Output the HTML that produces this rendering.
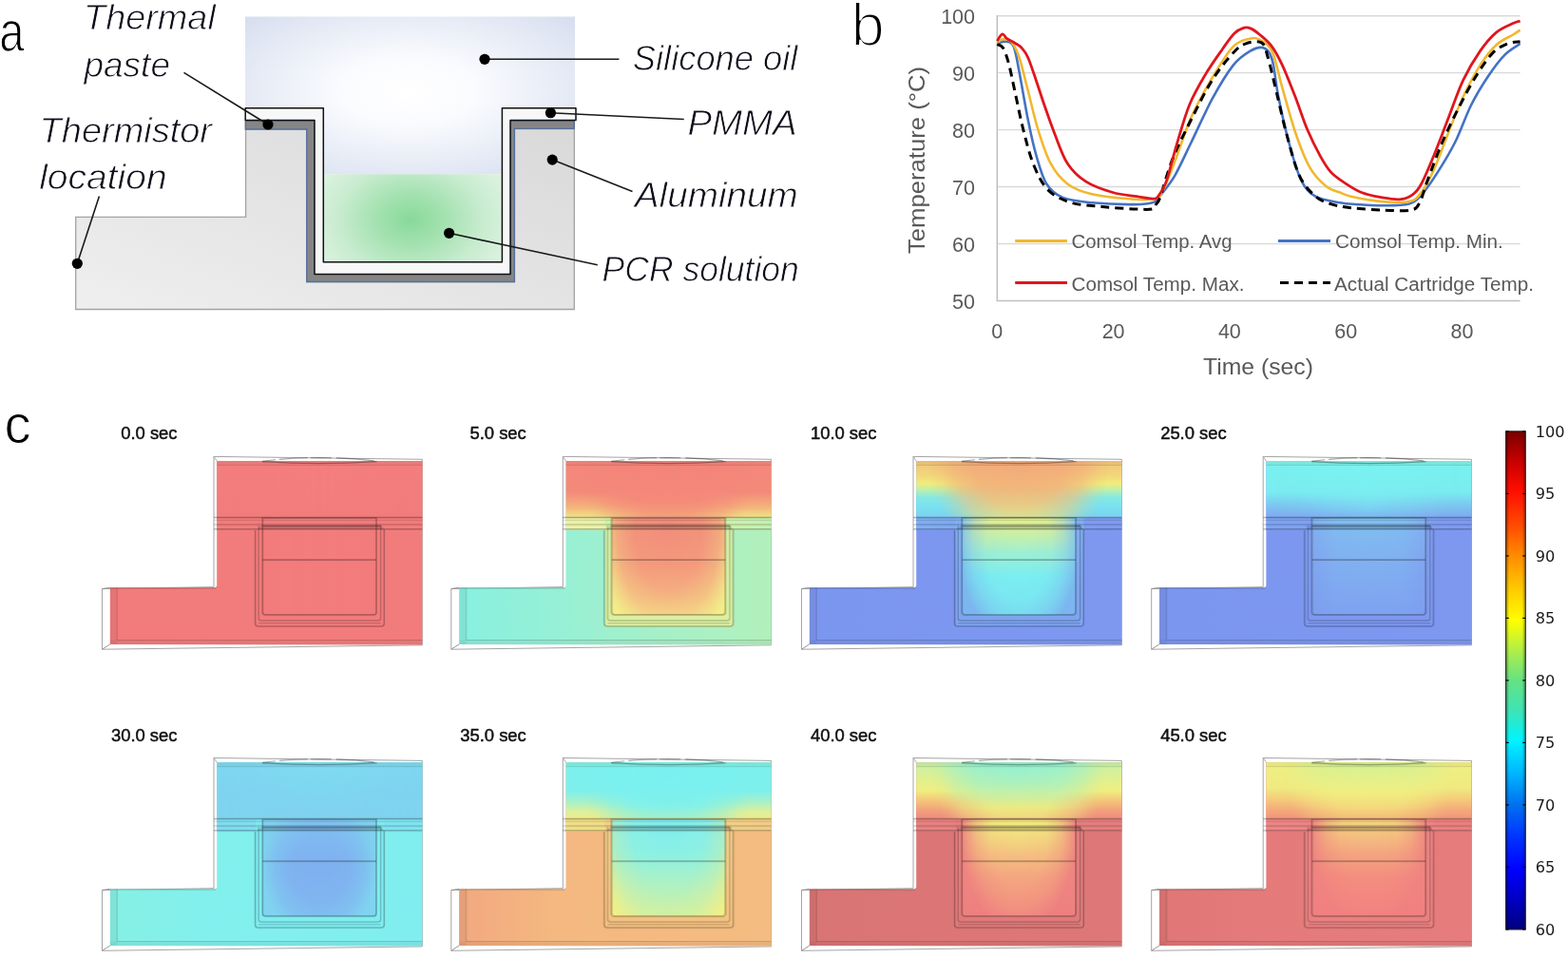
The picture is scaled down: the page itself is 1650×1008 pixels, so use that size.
<!DOCTYPE html>
<html><head><meta charset="utf-8"><title>Figure</title>
<style>html,body{margin:0;padding:0;background:#fff;overflow:hidden}svg{display:block}</style>
</head><body>
<svg width="1650" height="1008" viewBox="0 0 1650 1008">
<defs>
<radialGradient id="oilG" cx="0.5" cy="0.47" r="0.7" fx="0.49" fy="0.47">
<stop offset="0" stop-color="#ffffff"/><stop offset="0.3" stop-color="#fafbfe"/><stop offset="0.6" stop-color="#eaeef7"/><stop offset="0.85" stop-color="#dde4f2"/><stop offset="1" stop-color="#d4ddef"/></radialGradient>
<radialGradient id="pcrG" gradientUnits="userSpaceOnUse" cx="432" cy="231" r="110" gradientTransform="translate(432 231) scale(1 0.75) translate(-432 -231)">
<stop offset="0" stop-color="#88d99a"/><stop offset="0.35" stop-color="#a6e2b2"/><stop offset="0.7" stop-color="#c9ecd0"/><stop offset="1" stop-color="#dcf2e0"/></radialGradient>
<linearGradient id="aluG" x1="1" y1="0" x2="0" y2="1">
<stop offset="0" stop-color="#d9d9d9"/><stop offset="0.5" stop-color="#e4e4e4"/><stop offset="1" stop-color="#efefef"/></linearGradient>
<linearGradient id="mOilg" x1="0" y1="0" x2="1" y2="0"><stop offset="0" stop-color="#fff" stop-opacity="0"/><stop offset="0.14" stop-color="#fff" stop-opacity="0.08"/><stop offset="0.3" stop-color="#fff" stop-opacity="0.55"/><stop offset="0.5" stop-color="#fff" stop-opacity="1"/><stop offset="0.7" stop-color="#fff" stop-opacity="0.55"/><stop offset="0.86" stop-color="#fff" stop-opacity="0.08"/><stop offset="1" stop-color="#fff" stop-opacity="0"/></linearGradient>
<mask id="mOil" maskUnits="userSpaceOnUse" x="227.2" y="484" width="218.1" height="61.6"><rect x="228.2" y="485" width="216.1" height="59.6" fill="url(#mOilg)"/></mask>
<linearGradient id="mWellg" x1="0" y1="0" x2="1" y2="0"><stop offset="0" stop-color="#fff" stop-opacity="0"/><stop offset="0.07" stop-color="#fff" stop-opacity="0.3"/><stop offset="0.2" stop-color="#fff" stop-opacity="0.85"/><stop offset="0.5" stop-color="#fff" stop-opacity="1"/><stop offset="0.8" stop-color="#fff" stop-opacity="0.85"/><stop offset="0.93" stop-color="#fff" stop-opacity="0.3"/><stop offset="1" stop-color="#fff" stop-opacity="0"/></linearGradient>
<mask id="mWell" maskUnits="userSpaceOnUse" x="275.3" y="544" width="121.7" height="104"><rect x="276.3" y="545" width="119.7" height="102" fill="url(#mWellg)"/></mask>
<linearGradient id="g0a" x1="0" y1="0" x2="1" y2="0"><stop offset="0" stop-color="#f27b7b"/><stop offset="1" stop-color="#f27c7c"/></linearGradient>
<linearGradient id="g0b" x1="0" y1="0" x2="1" y2="0"><stop offset="0" stop-color="#f27c7c"/><stop offset="1" stop-color="#f27b7b"/></linearGradient>
<linearGradient id="g0oe" x1="0" y1="0" x2="0" y2="1"><stop offset="0" stop-color="#f47e7e"/><stop offset="1" stop-color="#f27c7c"/></linearGradient>
<linearGradient id="g0oc" x1="0" y1="0" x2="0" y2="1"><stop offset="0" stop-color="#f47e7e"/><stop offset="1" stop-color="#f27c7c"/></linearGradient>
<linearGradient id="g0w" x1="0" y1="0" x2="0" y2="1"><stop offset="0" stop-color="#f27b7b"/><stop offset="1" stop-color="#f27b7b"/></linearGradient>
<linearGradient id="g0ie" x1="0" y1="0" x2="0" y2="1"><stop offset="0" stop-color="#f27b7b"/><stop offset="1" stop-color="#f27b7b"/></linearGradient>
<linearGradient id="g0ic" x1="0" y1="0" x2="0" y2="1"><stop offset="0" stop-color="#f27c7c"/><stop offset="1" stop-color="#f27c7c"/></linearGradient>
<linearGradient id="g1a" x1="0" y1="0" x2="1" y2="0"><stop offset="0" stop-color="#88f0e0"/><stop offset="0.35" stop-color="#98f0d4"/><stop offset="0.7" stop-color="#a8f0c6"/><stop offset="1" stop-color="#b2f0bc"/></linearGradient>
<linearGradient id="g1b" x1="0" y1="0" x2="1" y2="0"><stop offset="0" stop-color="#eef0a8"/><stop offset="0.5" stop-color="#dcf0a8"/><stop offset="1" stop-color="#c4f0b0"/></linearGradient>
<linearGradient id="g1oe" x1="0" y1="0" x2="0" y2="1"><stop offset="0" stop-color="#f4867a"/><stop offset="0.55" stop-color="#f48a7a"/><stop offset="0.8" stop-color="#f4b07a"/><stop offset="1" stop-color="#f0e486"/></linearGradient>
<linearGradient id="g1oc" x1="0" y1="0" x2="0" y2="1"><stop offset="0" stop-color="#f4837a"/><stop offset="0.7" stop-color="#f4887a"/><stop offset="1" stop-color="#f49a7a"/></linearGradient>
<linearGradient id="g1w" x1="0" y1="0" x2="0" y2="1"><stop offset="0" stop-color="#d0f0a8"/><stop offset="1" stop-color="#dcf0a0"/></linearGradient>
<linearGradient id="g1ie" x1="0" y1="0" x2="0" y2="1"><stop offset="0" stop-color="#f2e888"/><stop offset="1" stop-color="#f2ee8a"/></linearGradient>
<linearGradient id="g1ic" x1="0" y1="0" x2="0" y2="1"><stop offset="0" stop-color="#f08a7a"/><stop offset="0.5" stop-color="#f4967c"/><stop offset="0.8" stop-color="#f4ae80"/><stop offset="1" stop-color="#f4c884"/></linearGradient>
<radialGradient id="mOilR1g" cx="0.5" cy="0" r="0.42" fx="0.5" fy="0" gradientTransform="translate(0.5 0) scale(1 5.2381) translate(-0.5 0)"><stop offset="0" stop-color="#fff" stop-opacity="1"/><stop offset="0.5" stop-color="#fff" stop-opacity="0.88"/><stop offset="0.75" stop-color="#fff" stop-opacity="0.5"/><stop offset="0.9" stop-color="#fff" stop-opacity="0.15"/><stop offset="1" stop-color="#fff" stop-opacity="0"/></radialGradient>
<mask id="mOilR1" maskUnits="userSpaceOnUse" x="227.2" y="484" width="218.1" height="61.6"><rect x="228.2" y="485" width="216.1" height="59.6" fill="url(#mOilR1g)"/></mask>
<radialGradient id="mWellR1g" cx="0.5" cy="0.1" r="0.6" fx="0.5" fy="0.1" gradientTransform="translate(0.5 0.1) scale(1 2.1667) translate(-0.5 -0.1)"><stop offset="0" stop-color="#fff" stop-opacity="1"/><stop offset="0.5" stop-color="#fff" stop-opacity="0.95"/><stop offset="0.75" stop-color="#fff" stop-opacity="0.7"/><stop offset="0.9" stop-color="#fff" stop-opacity="0.3"/><stop offset="1" stop-color="#fff" stop-opacity="0"/></radialGradient>
<mask id="mWellR1" maskUnits="userSpaceOnUse" x="275.3" y="544" width="121.7" height="104"><rect x="276.3" y="545" width="119.7" height="102" fill="url(#mWellR1g)"/></mask>
<linearGradient id="g2a" x1="0" y1="0" x2="1" y2="0"><stop offset="0" stop-color="#7b96ef"/><stop offset="1" stop-color="#7e98f0"/></linearGradient>
<linearGradient id="g2b" x1="0" y1="0" x2="1" y2="0"><stop offset="0" stop-color="#80b0f0"/><stop offset="0.4" stop-color="#7ea0f0"/><stop offset="1" stop-color="#7e9af0"/></linearGradient>
<linearGradient id="g2oe" x1="0" y1="0" x2="0" y2="1"><stop offset="0" stop-color="#f2c47a"/><stop offset="0.25" stop-color="#f2d67a"/><stop offset="0.4" stop-color="#f0ec7c"/><stop offset="0.52" stop-color="#b8f0b0"/><stop offset="0.65" stop-color="#84e8e4"/><stop offset="0.8" stop-color="#7ae2f0"/><stop offset="1" stop-color="#7cd0f0"/></linearGradient>
<linearGradient id="g2oc" x1="0" y1="0" x2="0" y2="1"><stop offset="0" stop-color="#f2a87a"/><stop offset="0.5" stop-color="#f2b47a"/><stop offset="0.8" stop-color="#f2ca7a"/><stop offset="1" stop-color="#f0e47c"/></linearGradient>
<linearGradient id="g2w" x1="0" y1="0" x2="0" y2="1"><stop offset="0" stop-color="#80b0f0"/><stop offset="0.5" stop-color="#7ea6f0"/><stop offset="1" stop-color="#7ea4f0"/></linearGradient>
<linearGradient id="g2ie" x1="0" y1="0" x2="0" y2="1"><stop offset="0" stop-color="#80c4f0"/><stop offset="0.5" stop-color="#7cbcf0"/><stop offset="1" stop-color="#7cb4f0"/></linearGradient>
<linearGradient id="g2ic" x1="0" y1="0" x2="0" y2="1"><stop offset="0" stop-color="#e8f08a"/><stop offset="0.15" stop-color="#d0f0a0"/><stop offset="0.35" stop-color="#a0f0d0"/><stop offset="0.6" stop-color="#7af0f0"/><stop offset="1" stop-color="#7ae8f0"/></linearGradient>
<radialGradient id="mOilR2g" cx="0.5" cy="0" r="0.44" fx="0.5" fy="0" gradientTransform="translate(0.5 0) scale(1 3.8636) translate(-0.5 0)"><stop offset="0" stop-color="#fff" stop-opacity="1"/><stop offset="0.5" stop-color="#fff" stop-opacity="0.9"/><stop offset="0.72" stop-color="#fff" stop-opacity="0.6"/><stop offset="0.88" stop-color="#fff" stop-opacity="0.2"/><stop offset="1" stop-color="#fff" stop-opacity="0"/></radialGradient>
<mask id="mOilR2" maskUnits="userSpaceOnUse" x="227.2" y="484" width="218.1" height="61.6"><rect x="228.2" y="485" width="216.1" height="59.6" fill="url(#mOilR2g)"/></mask>
<radialGradient id="mWellR2g" cx="0.5" cy="0.3" r="0.52" fx="0.5" fy="0.3" gradientTransform="translate(0.5 0.3) scale(1 1.9231) translate(-0.5 -0.3)"><stop offset="0" stop-color="#fff" stop-opacity="1"/><stop offset="0.55" stop-color="#fff" stop-opacity="0.92"/><stop offset="0.78" stop-color="#fff" stop-opacity="0.6"/><stop offset="0.92" stop-color="#fff" stop-opacity="0.25"/><stop offset="1" stop-color="#fff" stop-opacity="0"/></radialGradient>
<mask id="mWellR2" maskUnits="userSpaceOnUse" x="275.3" y="544" width="121.7" height="104"><rect x="276.3" y="545" width="119.7" height="102" fill="url(#mWellR2g)"/></mask>
<linearGradient id="g3a" x1="0" y1="0" x2="1" y2="0"><stop offset="0" stop-color="#7b96ef"/><stop offset="1" stop-color="#7e98f0"/></linearGradient>
<linearGradient id="g3b" x1="0" y1="0" x2="1" y2="0"><stop offset="0" stop-color="#7ea4f0"/><stop offset="1" stop-color="#7e9af0"/></linearGradient>
<linearGradient id="g3oe" x1="0" y1="0" x2="0" y2="1"><stop offset="0" stop-color="#80f0e2"/><stop offset="0.12" stop-color="#7af0f0"/><stop offset="0.55" stop-color="#7aecf0"/><stop offset="0.78" stop-color="#7cc8f0"/><stop offset="1" stop-color="#80a8f0"/></linearGradient>
<linearGradient id="g3oc" x1="0" y1="0" x2="0" y2="1"><stop offset="0" stop-color="#80f0e2"/><stop offset="0.12" stop-color="#7af2f0"/><stop offset="0.6" stop-color="#7aecf0"/><stop offset="0.85" stop-color="#7cd0f0"/><stop offset="1" stop-color="#7eb4f0"/></linearGradient>
<linearGradient id="g3w" x1="0" y1="0" x2="0" y2="1"><stop offset="0" stop-color="#7ea0f0"/><stop offset="1" stop-color="#7e98f0"/></linearGradient>
<linearGradient id="g3ie" x1="0" y1="0" x2="0" y2="1"><stop offset="0" stop-color="#80b0f0"/><stop offset="0.4" stop-color="#80a6f0"/><stop offset="1" stop-color="#7e9ef0"/></linearGradient>
<linearGradient id="g3ic" x1="0" y1="0" x2="0" y2="1"><stop offset="0" stop-color="#80c0f0"/><stop offset="0.35" stop-color="#80b4f0"/><stop offset="1" stop-color="#7ea2f0"/></linearGradient>
<linearGradient id="g4a" x1="0" y1="0" x2="1" y2="0"><stop offset="0" stop-color="#86f0e4"/><stop offset="0.3" stop-color="#82f0ec"/><stop offset="1" stop-color="#80eef0"/></linearGradient>
<linearGradient id="g4b" x1="0" y1="0" x2="1" y2="0"><stop offset="0" stop-color="#80dcf0"/><stop offset="1" stop-color="#80e4f0"/></linearGradient>
<linearGradient id="g4oe" x1="0" y1="0" x2="0" y2="1"><stop offset="0" stop-color="#7ed8f0"/><stop offset="0.5" stop-color="#7ed4f0"/><stop offset="1" stop-color="#80d4f0"/></linearGradient>
<linearGradient id="g4oc" x1="0" y1="0" x2="0" y2="1"><stop offset="0" stop-color="#7edcf0"/><stop offset="0.5" stop-color="#7ed6f0"/><stop offset="1" stop-color="#80d0f0"/></linearGradient>
<linearGradient id="g4w" x1="0" y1="0" x2="0" y2="1"><stop offset="0" stop-color="#80e8f0"/><stop offset="1" stop-color="#80eef0"/></linearGradient>
<linearGradient id="g4ie" x1="0" y1="0" x2="0" y2="1"><stop offset="0" stop-color="#80d0f0"/><stop offset="1" stop-color="#80d4f0"/></linearGradient>
<linearGradient id="g4ic" x1="0" y1="0" x2="0" y2="1"><stop offset="0" stop-color="#80bcf0"/><stop offset="0.5" stop-color="#7eaef0"/><stop offset="1" stop-color="#80b4f0"/></linearGradient>
<radialGradient id="mWellR4g" cx="0.5" cy="0.5" r="0.5" fx="0.5" fy="0.5" gradientTransform="translate(0.5 0.5) scale(1 1.5000) translate(-0.5 -0.5)"><stop offset="0" stop-color="#fff" stop-opacity="1"/><stop offset="0.5" stop-color="#fff" stop-opacity="0.9"/><stop offset="0.78" stop-color="#fff" stop-opacity="0.55"/><stop offset="0.92" stop-color="#fff" stop-opacity="0.2"/><stop offset="1" stop-color="#fff" stop-opacity="0"/></radialGradient>
<mask id="mWellR4" maskUnits="userSpaceOnUse" x="275.3" y="544" width="121.7" height="104"><rect x="276.3" y="545" width="119.7" height="102" fill="url(#mWellR4g)"/></mask>
<linearGradient id="g5a" x1="0" y1="0" x2="1" y2="0"><stop offset="0" stop-color="#f2a880"/><stop offset="0.3" stop-color="#f4b880"/><stop offset="1" stop-color="#f4bc80"/></linearGradient>
<linearGradient id="g5b" x1="0" y1="0" x2="1" y2="0"><stop offset="0" stop-color="#f0e088"/><stop offset="1" stop-color="#f2cc86"/></linearGradient>
<linearGradient id="g5oe" x1="0" y1="0" x2="0" y2="1"><stop offset="0" stop-color="#80f0e0"/><stop offset="0.1" stop-color="#7cf0ee"/><stop offset="0.5" stop-color="#7ef0ec"/><stop offset="0.7" stop-color="#a8f0c8"/><stop offset="0.85" stop-color="#d8f0a0"/><stop offset="1" stop-color="#f0ec88"/></linearGradient>
<linearGradient id="g5oc" x1="0" y1="0" x2="0" y2="1"><stop offset="0" stop-color="#80f0e4"/><stop offset="0.1" stop-color="#7af0f0"/><stop offset="0.75" stop-color="#7cf0ee"/><stop offset="1" stop-color="#98f0d4"/></linearGradient>
<linearGradient id="g5w" x1="0" y1="0" x2="0" y2="1"><stop offset="0" stop-color="#f2d088"/><stop offset="1" stop-color="#f4c080"/></linearGradient>
<linearGradient id="g5ie" x1="0" y1="0" x2="0" y2="1"><stop offset="0" stop-color="#f0ec88"/><stop offset="1" stop-color="#f2f088"/></linearGradient>
<linearGradient id="g5ic" x1="0" y1="0" x2="0" y2="1"><stop offset="0" stop-color="#80ecf0"/><stop offset="0.35" stop-color="#88f0e6"/><stop offset="0.65" stop-color="#a8f0c8"/><stop offset="1" stop-color="#c8f0a8"/></linearGradient>
<radialGradient id="mOilR5g" cx="0.5" cy="0" r="0.42" fx="0.5" fy="0" gradientTransform="translate(0.5 0) scale(1 5.2381) translate(-0.5 0)"><stop offset="0" stop-color="#fff" stop-opacity="1"/><stop offset="0.5" stop-color="#fff" stop-opacity="0.88"/><stop offset="0.75" stop-color="#fff" stop-opacity="0.5"/><stop offset="0.9" stop-color="#fff" stop-opacity="0.15"/><stop offset="1" stop-color="#fff" stop-opacity="0"/></radialGradient>
<mask id="mOilR5" maskUnits="userSpaceOnUse" x="227.2" y="484" width="218.1" height="61.6"><rect x="228.2" y="485" width="216.1" height="59.6" fill="url(#mOilR5g)"/></mask>
<radialGradient id="mWellR5g" cx="0.5" cy="0.1" r="0.62" fx="0.5" fy="0.1" gradientTransform="translate(0.5 0.1) scale(1 2.0968) translate(-0.5 -0.1)"><stop offset="0" stop-color="#fff" stop-opacity="1"/><stop offset="0.5" stop-color="#fff" stop-opacity="0.95"/><stop offset="0.75" stop-color="#fff" stop-opacity="0.7"/><stop offset="0.9" stop-color="#fff" stop-opacity="0.3"/><stop offset="1" stop-color="#fff" stop-opacity="0"/></radialGradient>
<mask id="mWellR5" maskUnits="userSpaceOnUse" x="275.3" y="544" width="121.7" height="104"><rect x="276.3" y="545" width="119.7" height="102" fill="url(#mWellR5g)"/></mask>
<linearGradient id="g6a" x1="0" y1="0" x2="1" y2="0"><stop offset="0" stop-color="#d87474"/><stop offset="0.3" stop-color="#dc7676"/><stop offset="1" stop-color="#de7878"/></linearGradient>
<linearGradient id="g6b" x1="0" y1="0" x2="1" y2="0"><stop offset="0" stop-color="#e88282"/><stop offset="1" stop-color="#e47e7e"/></linearGradient>
<linearGradient id="g6oe" x1="0" y1="0" x2="0" y2="1"><stop offset="0" stop-color="#c8f0a8"/><stop offset="0.3" stop-color="#e0f090"/><stop offset="0.5" stop-color="#f0ee80"/><stop offset="0.7" stop-color="#f4c078"/><stop offset="0.85" stop-color="#f2a07c"/><stop offset="1" stop-color="#f08a80"/></linearGradient>
<linearGradient id="g6oc" x1="0" y1="0" x2="0" y2="1"><stop offset="0" stop-color="#90f0d4"/><stop offset="0.35" stop-color="#a8f0c0"/><stop offset="0.6" stop-color="#c8f0a4"/><stop offset="0.8" stop-color="#eaf084"/><stop offset="1" stop-color="#f2e07e"/></linearGradient>
<linearGradient id="g6w" x1="0" y1="0" x2="0" y2="1"><stop offset="0" stop-color="#e47e7e"/><stop offset="1" stop-color="#e07a7a"/></linearGradient>
<linearGradient id="g6ie" x1="0" y1="0" x2="0" y2="1"><stop offset="0" stop-color="#f08a80"/><stop offset="1" stop-color="#ee8080"/></linearGradient>
<linearGradient id="g6ic" x1="0" y1="0" x2="0" y2="1"><stop offset="0" stop-color="#f0f080"/><stop offset="0.15" stop-color="#f2e080"/><stop offset="0.35" stop-color="#f4c480"/><stop offset="0.6" stop-color="#f4a880"/><stop offset="1" stop-color="#f49880"/></linearGradient>
<radialGradient id="mOilR6g" cx="0.5" cy="0" r="0.42" fx="0.5" fy="0" gradientTransform="translate(0.5 0) scale(1 5.2381) translate(-0.5 0)"><stop offset="0" stop-color="#fff" stop-opacity="1"/><stop offset="0.5" stop-color="#fff" stop-opacity="0.88"/><stop offset="0.75" stop-color="#fff" stop-opacity="0.5"/><stop offset="0.9" stop-color="#fff" stop-opacity="0.15"/><stop offset="1" stop-color="#fff" stop-opacity="0"/></radialGradient>
<mask id="mOilR6" maskUnits="userSpaceOnUse" x="227.2" y="484" width="218.1" height="61.6"><rect x="228.2" y="485" width="216.1" height="59.6" fill="url(#mOilR6g)"/></mask>
<radialGradient id="mWellR6g" cx="0.5" cy="0.2" r="0.5" fx="0.5" fy="0.2" gradientTransform="translate(0.5 0.2) scale(1 1.9000) translate(-0.5 -0.2)"><stop offset="0" stop-color="#fff" stop-opacity="1"/><stop offset="0.5" stop-color="#fff" stop-opacity="0.92"/><stop offset="0.75" stop-color="#fff" stop-opacity="0.6"/><stop offset="0.9" stop-color="#fff" stop-opacity="0.25"/><stop offset="1" stop-color="#fff" stop-opacity="0"/></radialGradient>
<mask id="mWellR6" maskUnits="userSpaceOnUse" x="275.3" y="544" width="121.7" height="104"><rect x="276.3" y="545" width="119.7" height="102" fill="url(#mWellR6g)"/></mask>
<linearGradient id="g7a" x1="0" y1="0" x2="1" y2="0"><stop offset="0" stop-color="#e07676"/><stop offset="0.3" stop-color="#e47a7a"/><stop offset="1" stop-color="#e67c7c"/></linearGradient>
<linearGradient id="g7b" x1="0" y1="0" x2="1" y2="0"><stop offset="0" stop-color="#ee8686"/><stop offset="1" stop-color="#ea8080"/></linearGradient>
<linearGradient id="g7oe" x1="0" y1="0" x2="0" y2="1"><stop offset="0" stop-color="#eef084"/><stop offset="0.45" stop-color="#f0ea80"/><stop offset="0.65" stop-color="#f4cc7a"/><stop offset="0.85" stop-color="#f4a87a"/><stop offset="1" stop-color="#f2947c"/></linearGradient>
<linearGradient id="g7oc" x1="0" y1="0" x2="0" y2="1"><stop offset="0" stop-color="#d4f094"/><stop offset="0.3" stop-color="#e2f08a"/><stop offset="0.55" stop-color="#f0ee80"/><stop offset="0.8" stop-color="#f4dc7c"/><stop offset="1" stop-color="#f4c07a"/></linearGradient>
<linearGradient id="g7w" x1="0" y1="0" x2="0" y2="1"><stop offset="0" stop-color="#ee8484"/><stop offset="1" stop-color="#ea8080"/></linearGradient>
<linearGradient id="g7ie" x1="0" y1="0" x2="0" y2="1"><stop offset="0" stop-color="#f08880"/><stop offset="1" stop-color="#f08080"/></linearGradient>
<linearGradient id="g7ic" x1="0" y1="0" x2="0" y2="1"><stop offset="0" stop-color="#f4d880"/><stop offset="0.15" stop-color="#f4c480"/><stop offset="0.35" stop-color="#f4a680"/><stop offset="0.6" stop-color="#f48e80"/><stop offset="1" stop-color="#f48680"/></linearGradient>
<radialGradient id="mOilR7g" cx="0.5" cy="0" r="0.42" fx="0.5" fy="0" gradientTransform="translate(0.5 0) scale(1 5.2381) translate(-0.5 0)"><stop offset="0" stop-color="#fff" stop-opacity="1"/><stop offset="0.5" stop-color="#fff" stop-opacity="0.88"/><stop offset="0.75" stop-color="#fff" stop-opacity="0.5"/><stop offset="0.9" stop-color="#fff" stop-opacity="0.15"/><stop offset="1" stop-color="#fff" stop-opacity="0"/></radialGradient>
<mask id="mOilR7" maskUnits="userSpaceOnUse" x="227.2" y="484" width="218.1" height="61.6"><rect x="228.2" y="485" width="216.1" height="59.6" fill="url(#mOilR7g)"/></mask>
<radialGradient id="mWellR7g" cx="0.5" cy="0.2" r="0.5" fx="0.5" fy="0.2" gradientTransform="translate(0.5 0.2) scale(1 1.9000) translate(-0.5 -0.2)"><stop offset="0" stop-color="#fff" stop-opacity="1"/><stop offset="0.5" stop-color="#fff" stop-opacity="0.92"/><stop offset="0.75" stop-color="#fff" stop-opacity="0.6"/><stop offset="0.9" stop-color="#fff" stop-opacity="0.25"/><stop offset="1" stop-color="#fff" stop-opacity="0"/></radialGradient>
<mask id="mWellR7" maskUnits="userSpaceOnUse" x="275.3" y="544" width="121.7" height="104"><rect x="276.3" y="545" width="119.7" height="102" fill="url(#mWellR7g)"/></mask>
<linearGradient id="cbar" x1="0" y1="0" x2="0" y2="1"><stop offset="0" stop-color="#7a0000"/><stop offset="0.06" stop-color="#c80000"/><stop offset="0.12" stop-color="#ff0e00"/><stop offset="0.19" stop-color="#ff4c00"/><stop offset="0.25" stop-color="#ff8c00"/><stop offset="0.31" stop-color="#ffc400"/><stop offset="0.38" stop-color="#ffff00"/><stop offset="0.44" stop-color="#b0ee48"/><stop offset="0.5" stop-color="#64e282"/><stop offset="0.56" stop-color="#3ee4b4"/><stop offset="0.62" stop-color="#00f4ff"/><stop offset="0.69" stop-color="#00b2ff"/><stop offset="0.75" stop-color="#0070f0"/><stop offset="0.81" stop-color="#0038ff"/><stop offset="0.88" stop-color="#0000ff"/><stop offset="0.94" stop-color="#0000c4"/><stop offset="1" stop-color="#00007e"/></linearGradient>
</defs>
<rect width="1650" height="1008" fill="#fff"/>
<rect x="258" y="17.5" width="347" height="166" fill="url(#oilG)"/>
<rect x="340" y="183.3" width="188.5" height="92.5" fill="url(#pcrG)"/>
<polygon points="79.7,228.3 258.6,228.3 258.6,135.8 322.8,135.8 322.8,296.6 541.3,296.6 541.3,135.5 604.3,135.5 604.3,325.5 79.7,325.5" fill="url(#aluG)" stroke="#a3a3a3" stroke-width="1.3"/>
<polygon points="258.3,127.2 331,127.2 331,288.4 537,288.4 537,127.2 604.3,127.2 604.3,135.4 541.4,135.4 541.4,296.5 322.8,296.5 322.8,136 258.3,136" fill="#858587" stroke="#55709c" stroke-width="1.4" stroke-linejoin="miter"/>
<polygon points="258.2,113.7 340.3,113.7 340.3,275.8 528.4,275.8 528.4,113.7 606,113.7 606,126.6 537,126.6 537,288.4 331,288.4 331,126.6 258.2,126.6" fill="#f7f7f7" stroke="#111" stroke-width="1.5" stroke-linejoin="round"/>
<line x1="282" y1="131" x2="193.5" y2="76.4" stroke="#1a1a1a" stroke-width="1.6"/>
<line x1="81.3" y1="277.3" x2="104.4" y2="206.5" stroke="#1a1a1a" stroke-width="1.6"/>
<line x1="510" y1="62.3" x2="651.4" y2="62.3" stroke="#1a1a1a" stroke-width="1.6"/>
<line x1="579.4" y1="118.7" x2="719.7" y2="125.5" stroke="#1a1a1a" stroke-width="1.6"/>
<line x1="581.2" y1="168.1" x2="665.5" y2="201.4" stroke="#1a1a1a" stroke-width="1.6"/>
<line x1="472.6" y1="245.3" x2="628.8" y2="278.8" stroke="#1a1a1a" stroke-width="1.6"/>
<circle cx="282" cy="131" r="5.6" fill="#000"/>
<circle cx="81.3" cy="277.3" r="5.6" fill="#000"/>
<circle cx="510" cy="62.3" r="5.6" fill="#000"/>
<circle cx="579.4" cy="118.7" r="5.6" fill="#000"/>
<circle cx="581.2" cy="168.1" r="5.6" fill="#000"/>
<circle cx="472.6" cy="245.3" r="5.6" fill="#000"/>
<text x="88.1" y="30.8" style="font-family:'Liberation Sans',Arial,sans-serif;font-style:italic;font-size:36.5px" fill="#0d0d1a" stroke="#fff" stroke-width="0.8" textLength="138.7" lengthAdjust="spacingAndGlyphs">Thermal</text>
<text x="88.4" y="80.5" style="font-family:'Liberation Sans',Arial,sans-serif;font-style:italic;font-size:36.5px" fill="#0d0d1a" stroke="#fff" stroke-width="0.8" textLength="90.6" lengthAdjust="spacingAndGlyphs">paste</text>
<text x="41.6" y="149.7" style="font-family:'Liberation Sans',Arial,sans-serif;font-style:italic;font-size:36.5px" fill="#0d0d1a" stroke="#fff" stroke-width="0.8" textLength="181.4" lengthAdjust="spacingAndGlyphs">Thermistor</text>
<text x="41.2" y="199.1" style="font-family:'Liberation Sans',Arial,sans-serif;font-style:italic;font-size:36.5px" fill="#0d0d1a" stroke="#fff" stroke-width="0.8" textLength="134.5" lengthAdjust="spacingAndGlyphs">location</text>
<text x="665.8" y="74.3" style="font-family:'Liberation Sans',Arial,sans-serif;font-style:italic;font-size:36.5px" fill="#0d0d1a" stroke="#fff" stroke-width="0.8" textLength="173.6" lengthAdjust="spacingAndGlyphs">Silicone oil</text>
<text x="723.4" y="142.2" style="font-family:'Liberation Sans',Arial,sans-serif;font-style:italic;font-size:36.5px" fill="#0d0d1a" stroke="#fff" stroke-width="0.8" textLength="115.3" lengthAdjust="spacingAndGlyphs">PMMA</text>
<text x="667.8" y="218.2" style="font-family:'Liberation Sans',Arial,sans-serif;font-style:italic;font-size:36.5px" fill="#0d0d1a" stroke="#fff" stroke-width="0.8" textLength="172" lengthAdjust="spacingAndGlyphs">Aluminum</text>
<text x="633.6" y="295.5" style="font-family:'Liberation Sans',Arial,sans-serif;font-style:italic;font-size:36.5px" fill="#0d0d1a" stroke="#fff" stroke-width="0.8" textLength="207.2" lengthAdjust="spacingAndGlyphs">PCR solution</text>
<text transform="translate(-0.8 0) scale(0.774 1)" x="0" y="53.7" style="font-family:'Liberation Sans',Arial,sans-serif;font-size:61px" fill="#000" stroke="#fff" stroke-width="1.4">a</text>
<line x1="1049.3" y1="16.7" x2="1599.6" y2="16.7" stroke="#d9d9d9" stroke-width="1.4"/>
<line x1="1049.3" y1="76.64" x2="1599.6" y2="76.64" stroke="#d9d9d9" stroke-width="1.4"/>
<line x1="1049.3" y1="136.58" x2="1599.6" y2="136.58" stroke="#d9d9d9" stroke-width="1.4"/>
<line x1="1049.3" y1="196.52" x2="1599.6" y2="196.52" stroke="#d9d9d9" stroke-width="1.4"/>
<line x1="1049.3" y1="256.46" x2="1599.6" y2="256.46" stroke="#d9d9d9" stroke-width="1.4"/>
<line x1="1049.3" y1="16" x2="1049.3" y2="316.4" stroke="#bfbfbf" stroke-width="1.5"/>
<line x1="1048.6" y1="316.4" x2="1599.6" y2="316.4" stroke="#bfbfbf" stroke-width="1.5"/>
<text x="1026" y="25" text-anchor="end" style="font-family:'Liberation Sans',Arial,sans-serif;font-size:21.5px" fill="#595959">100</text>
<text x="1026" y="84.94" text-anchor="end" style="font-family:'Liberation Sans',Arial,sans-serif;font-size:21.5px" fill="#595959">90</text>
<text x="1026" y="144.88" text-anchor="end" style="font-family:'Liberation Sans',Arial,sans-serif;font-size:21.5px" fill="#595959">80</text>
<text x="1026" y="204.82" text-anchor="end" style="font-family:'Liberation Sans',Arial,sans-serif;font-size:21.5px" fill="#595959">70</text>
<text x="1026" y="264.76" text-anchor="end" style="font-family:'Liberation Sans',Arial,sans-serif;font-size:21.5px" fill="#595959">60</text>
<text x="1026" y="324.7" text-anchor="end" style="font-family:'Liberation Sans',Arial,sans-serif;font-size:21.5px" fill="#595959">50</text>
<text x="1049.3" y="356" text-anchor="middle" style="font-family:'Liberation Sans',Arial,sans-serif;font-size:21.5px" fill="#595959">0</text>
<text x="1171.59" y="356" text-anchor="middle" style="font-family:'Liberation Sans',Arial,sans-serif;font-size:21.5px" fill="#595959">20</text>
<text x="1293.88" y="356" text-anchor="middle" style="font-family:'Liberation Sans',Arial,sans-serif;font-size:21.5px" fill="#595959">40</text>
<text x="1416.17" y="356" text-anchor="middle" style="font-family:'Liberation Sans',Arial,sans-serif;font-size:21.5px" fill="#595959">60</text>
<text x="1538.46" y="356" text-anchor="middle" style="font-family:'Liberation Sans',Arial,sans-serif;font-size:21.5px" fill="#595959">80</text>
<text x="1324" y="393.6" text-anchor="middle" style="font-family:'Liberation Sans',Arial,sans-serif;font-size:24px" fill="#595959" textLength="116" lengthAdjust="spacingAndGlyphs">Time (sec)</text>
<text transform="translate(973 168.5) rotate(-90)" x="0" y="0" text-anchor="middle" style="font-family:'Liberation Sans',Arial,sans-serif;font-size:24px" fill="#595959" textLength="197" lengthAdjust="spacingAndGlyphs">Temperature (°C)</text>
<line x1="1068.2" y1="253.4" x2="1123" y2="253.4" stroke="#f1b82d" stroke-width="3"/>
<line x1="1345" y1="253.4" x2="1400" y2="253.4" stroke="#4472c4" stroke-width="3"/>
<line x1="1068.2" y1="297.6" x2="1123" y2="297.6" stroke="#e0161d" stroke-width="3"/>
<line x1="1347" y1="297.6" x2="1400" y2="297.6" stroke="#000" stroke-width="3" stroke-dasharray="9 6"/>
<text x="1127.5" y="261.3" style="font-family:'Liberation Sans',Arial,sans-serif;font-size:19.5px" fill="#595959" textLength="169" lengthAdjust="spacingAndGlyphs">Comsol Temp. Avg</text>
<text x="1405" y="261.3" style="font-family:'Liberation Sans',Arial,sans-serif;font-size:19.5px" fill="#595959" textLength="176.8" lengthAdjust="spacingAndGlyphs">Comsol Temp. Min.</text>
<text x="1127.5" y="305.9" style="font-family:'Liberation Sans',Arial,sans-serif;font-size:19.5px" fill="#595959" textLength="182" lengthAdjust="spacingAndGlyphs">Comsol Temp. Max.</text>
<text x="1404" y="305.9" style="font-family:'Liberation Sans',Arial,sans-serif;font-size:19.5px" fill="#595959" textLength="210" lengthAdjust="spacingAndGlyphs">Actual Cartridge Temp.</text>
<path d="M1049.3,46.07 C1050.62,45.67 1054.4,43.27 1057.25,43.67 C1060.1,44.07 1063.87,43.17 1066.42,48.47 C1068.97,53.76 1069.99,62.55 1072.53,75.44 C1075.08,88.33 1078.75,111.21 1081.71,125.79 C1084.66,140.38 1087.01,151.66 1090.27,162.95 C1093.53,174.24 1096.59,186.03 1101.27,193.52 C1105.96,201.02 1110.44,204.61 1118.39,207.91 C1126.34,211.21 1136.53,212.1 1148.97,213.3 C1161.4,214.5 1182.09,215.2 1192.99,215.1 C1203.89,215 1209.7,214.3 1214.39,212.7 C1219.08,211.11 1217.45,210.21 1221.12,205.51 C1224.78,200.82 1231,193.82 1236.4,184.53 C1241.8,175.24 1247,163.15 1253.52,149.77 C1260.04,136.38 1268.2,117.7 1275.53,104.21 C1282.87,90.73 1290.92,77.24 1297.55,68.85 C1304.17,60.46 1309.98,56.96 1315.28,53.86 C1320.58,50.77 1325.47,48.87 1329.34,50.27 C1333.21,51.66 1335.86,53.66 1338.51,62.25 C1341.16,70.85 1342.28,87.23 1345.24,101.81 C1348.19,116.4 1352.27,135.18 1356.25,149.77 C1360.22,164.35 1364.4,179.84 1369.09,189.33 C1373.77,198.82 1377.54,202.71 1384.37,206.71 C1391.2,210.71 1402.71,211.9 1410.05,213.3 C1417.39,214.7 1420.96,214.6 1428.4,215.1 C1435.83,215.6 1445.62,216.4 1454.69,216.3 C1463.76,216.2 1475.78,216.6 1482.81,214.5 C1489.85,212.4 1491.78,209.41 1496.88,203.71 C1501.97,198.02 1507.68,189.33 1513.39,180.34 C1519.09,171.35 1525.31,161.46 1531.12,149.77 C1536.93,138.08 1542.43,121.79 1548.24,110.21 C1554.05,98.62 1560.16,88.93 1565.97,80.24 C1571.78,71.55 1577.49,63.75 1583.09,58.06 C1588.7,52.36 1596.85,48.07 1599.6,46.07" fill="none" stroke="#4472c4" stroke-width="2.6" stroke-linejoin="round"/>
<path d="M1049.3,44.87 C1050.32,44.27 1052.97,41.48 1055.41,41.28 C1057.86,41.08 1061.12,40.48 1063.97,43.67 C1066.83,46.87 1069.58,51.86 1072.53,60.46 C1075.49,69.05 1078.39,82.53 1081.71,95.22 C1085.02,107.91 1088.43,123.79 1092.41,136.58 C1096.38,149.37 1100.41,162.45 1105.55,171.94 C1110.7,181.44 1116.05,188.13 1123.28,193.52 C1130.52,198.92 1137.35,201.61 1148.97,204.31 C1160.58,207.01 1181.88,208.91 1192.99,209.71 C1204.1,210.51 1210.62,210.41 1215.61,209.11 C1220.61,207.81 1219.49,208.51 1222.95,201.91 C1226.42,195.32 1231.31,182.63 1236.4,169.55 C1241.5,156.46 1247,137.98 1253.52,123.39 C1260.04,108.81 1268.2,94.42 1275.53,82.03 C1282.87,69.65 1290.92,55.96 1297.55,49.07 C1304.17,42.17 1310.59,41.87 1315.28,40.68 C1319.97,39.48 1321.8,39.68 1325.67,41.87 C1329.55,44.07 1334.54,45.37 1338.51,53.86 C1342.49,62.35 1345.44,78.64 1349.52,92.82 C1353.6,107.01 1358.18,125.09 1362.97,138.98 C1367.76,152.86 1372.86,166.65 1378.26,176.14 C1383.66,185.63 1390.08,191.53 1395.38,195.92 C1400.68,200.32 1405.67,200.72 1410.05,202.51 C1414.43,204.31 1414.23,205.11 1421.67,206.71 C1429.11,208.31 1444.5,211.21 1454.69,212.1 C1464.88,213 1475.99,213.7 1482.81,212.1 C1489.64,210.51 1491.27,208.21 1495.65,202.51 C1500.04,196.82 1504.32,188.53 1509.11,177.94 C1513.9,167.35 1519.3,151.66 1524.39,138.98 C1529.49,126.29 1534.18,113.5 1539.68,101.81 C1545.18,90.13 1551.6,77.94 1557.41,68.85 C1563.22,59.76 1568.72,52.66 1574.53,47.27 C1580.34,41.87 1588.08,39.08 1592.26,36.48 C1596.44,33.88 1598.38,32.48 1599.6,31.68" fill="none" stroke="#f1b82d" stroke-width="2.6" stroke-linejoin="round"/>
<path d="M1049.3,46.67 C1050.32,47.27 1053.38,46.87 1055.41,50.27 C1057.45,53.66 1059.39,59.16 1061.53,67.05 C1063.67,74.94 1065.71,86.03 1068.25,97.62 C1070.8,109.21 1073.55,123.89 1076.82,136.58 C1080.08,149.27 1083.44,163.15 1087.82,173.74 C1092.2,184.33 1096.48,193.52 1103.11,200.12 C1109.73,206.71 1118.09,210.41 1127.56,213.3 C1137.04,216.2 1149.07,216.4 1159.97,217.5 C1170.88,218.6 1184.23,219.5 1192.99,219.9 C1201.75,220.3 1208.58,220.8 1212.56,219.9 C1216.53,219 1215.41,216.7 1216.84,214.5 C1218.26,212.3 1218.26,214.6 1221.12,206.71 C1223.97,198.82 1228.56,180.64 1233.96,167.15 C1239.36,153.66 1246.59,139.58 1253.52,125.79 C1260.45,112 1268.2,96.12 1275.53,84.43 C1282.87,72.74 1291.74,62.05 1297.55,55.66 C1303.36,49.27 1305.39,47.87 1310.39,46.07 C1315.38,44.27 1323.53,42.47 1327.51,44.87 C1331.48,47.27 1331.58,51.66 1334.23,60.46 C1336.88,69.25 1340.14,84.23 1343.4,97.62 C1346.67,111.01 1349.82,126.29 1353.8,140.78 C1357.77,155.26 1362.16,173.54 1367.25,184.53 C1372.35,195.52 1378.56,201.61 1384.37,206.71 C1390.18,211.8 1395.89,213.1 1402.1,215.1 C1408.32,217.1 1412.91,217.7 1421.67,218.7 C1430.43,219.7 1444.19,220.7 1454.69,221.1 C1465.18,221.49 1478.13,222.39 1484.65,221.1 C1491.17,219.8 1490.86,218.6 1493.82,213.3 C1496.78,208.01 1498.41,199.92 1502.38,189.33 C1506.35,178.74 1512.16,162.55 1517.67,149.77 C1523.17,136.98 1529.49,124.19 1535.4,112.6 C1541.31,101.02 1547.22,89.73 1553.13,80.24 C1559.04,70.75 1565.36,61.36 1570.86,55.66 C1576.37,49.97 1581.36,48.07 1586.15,46.07 C1590.94,44.07 1597.36,44.07 1599.6,43.67" fill="none" stroke="#000" stroke-width="3" stroke-dasharray="9 6" stroke-linejoin="round"/>
<path d="M1049.3,43.07 C1050.22,41.87 1053.07,36.28 1054.8,35.88 C1056.54,35.48 1057.45,39.08 1059.69,40.68 C1061.94,42.27 1065.71,43.87 1068.25,45.47 C1070.8,47.07 1072.74,47.77 1074.98,50.27 C1077.22,52.76 1079.16,54.76 1081.71,60.46 C1084.25,66.15 1087.41,76.14 1090.27,84.43 C1093.12,92.72 1095.57,100.82 1098.83,110.21 C1102.09,119.6 1105.76,130.49 1109.83,140.78 C1113.91,151.07 1117.78,163.55 1123.28,171.94 C1128.79,180.34 1134.9,186.03 1142.85,191.13 C1150.8,196.22 1162.11,199.92 1170.98,202.51 C1179.84,205.11 1189.12,205.61 1196.05,206.71 C1202.98,207.81 1208.79,209.11 1212.56,209.11 C1216.33,209.11 1216.22,209.71 1218.67,206.71 C1221.12,203.71 1223.97,200.22 1227.23,191.13 C1230.49,182.03 1234.16,165.65 1238.24,152.16 C1242.31,138.68 1246.59,122.59 1251.69,110.21 C1256.78,97.82 1263,87.63 1268.81,77.84 C1274.62,68.05 1281.55,58.56 1286.54,51.47 C1291.53,44.37 1295.1,38.98 1298.77,35.28 C1302.44,31.59 1305.7,30.19 1308.55,29.29 C1311.41,28.39 1313.04,28.69 1315.89,29.89 C1318.74,31.09 1321.9,33.28 1325.67,36.48 C1329.44,39.68 1334.54,43.67 1338.51,49.07 C1342.49,54.46 1345.44,60.06 1349.52,68.85 C1353.6,77.64 1358.59,90.53 1362.97,101.81 C1367.35,113.1 1371.43,126.19 1375.81,136.58 C1380.19,146.97 1385.19,156.76 1389.26,164.15 C1393.34,171.54 1396.29,176.44 1400.27,180.94 C1404.24,185.43 1407.71,187.53 1413.11,191.13 C1418.51,194.72 1425.75,199.72 1432.68,202.51 C1439.61,205.31 1447.76,206.71 1454.69,207.91 C1461.62,209.11 1468.85,210.31 1474.25,209.71 C1479.65,209.11 1483.53,207.01 1487.09,204.31 C1490.66,201.61 1491.99,200.42 1495.65,193.52 C1499.32,186.63 1504.32,174.64 1509.11,162.95 C1513.9,151.27 1519.3,136.48 1524.39,123.39 C1529.49,110.31 1534.18,96.02 1539.68,84.43 C1545.18,72.84 1551.6,62.25 1557.41,53.86 C1563.22,45.47 1568.72,38.98 1574.53,34.08 C1580.34,29.19 1588.08,26.49 1592.26,24.49 C1596.44,22.49 1598.38,22.49 1599.6,22.09" fill="none" stroke="#e0161d" stroke-width="2.8" stroke-linejoin="round"/>
<text x="895.6" y="48.2" style="font-family:'Liberation Sans',Arial,sans-serif;font-size:63.5px" fill="#000" stroke="#fff" stroke-width="2.2">b</text>
<g transform="translate(0 0)">
<polygon points="107.5,619.5 225,617.6 225,480.4 444.3,483.3 444.3,678.8 107.5,683.2" fill="#fff" stroke="#a4a4a4" stroke-width="1"/>
<polygon points="115.8,618.3 226.6,618.3 228.2,616.6 228.2,485 444.3,485 444.3,678.5 115.8,677.9" fill="url(#g0a)"/>
<rect x="228.2" y="544.6" width="216.1" height="13.2" fill="url(#g0b)"/>
<rect x="228.2" y="485" width="216.1" height="59.6" fill="url(#g0oe)"/>
<rect x="228.2" y="485" width="216.1" height="59.6" fill="url(#g0oc)" mask="url(#mOil)"/>
<rect x="269.3" y="545" width="135.2" height="114.5" fill="url(#g0w)"/>
<rect x="276.3" y="545" width="119.7" height="102" fill="url(#g0ie)"/>
<rect x="276.3" y="545" width="119.7" height="102" fill="url(#g0ic)" mask="url(#mWell)"/>
<g style="mix-blend-mode:multiply"><path d="M276,485.2 Q336,478 396.5,485.2" stroke="#a0a0a0" stroke-width="1.1" fill="none" stroke-dasharray="14 4 30 3 22 5 40 4"/>
<path d="M276,485.6 Q336,489.5 396.5,485.6" stroke="#444" fill="none" stroke-width="1.2" opacity="0.45"/>
<line x1="228.2" y1="489.4" x2="444.3" y2="489.4" stroke="#444" fill="none" stroke-width="0.9" opacity="0.18"/>
<line x1="225" y1="544.5" x2="444.3" y2="544.5" stroke="#444" fill="none" stroke-width="1.6" opacity="0.4"/>
<line x1="225" y1="547.3" x2="444.3" y2="547.3" stroke="#444" fill="none" stroke-width="1.2" opacity="0.15"/>
<line x1="225" y1="552" x2="444.3" y2="552" stroke="#444" fill="none" stroke-width="1.3" opacity="0.24"/>
<line x1="225" y1="556.7" x2="444.3" y2="556.7" stroke="#444" fill="none" stroke-width="1.6" opacity="0.34"/>
<path d="M271,557 L276.4,551.8 H400.6 L404,557 Z" fill="#444" opacity="0.22"/>
<line x1="276.4" y1="553.6" x2="400.6" y2="553.6" stroke="#444" fill="none" stroke-width="1.4" opacity="0.4"/>
<path d="M276.3,545 V644 Q276.3,646.8 279.3,646.8 H393 Q396,646.8 396,644 V545 Z" stroke="#444" fill="none" stroke-width="1.7" opacity="0.36"/>
<path d="M272.2,553 V650.5 Q272.2,653 275.5,653 H397.3 Q400.6,653 400.6,650.5 V553" stroke="#444" fill="none" stroke-width="1.4" opacity="0.28"/>
<path d="M268.6,558 V656 Q268.6,659 272,659 H401 Q404.3,659 404.3,656 V557" stroke="#444" fill="none" stroke-width="1.6" opacity="0.34"/>
<line x1="272.2" y1="655.8" x2="400.6" y2="655.8" stroke="#444" fill="none" stroke-width="1" opacity="0.3"/>
<line x1="276.3" y1="589.2" x2="396" y2="589.2" stroke="#444" fill="none" stroke-width="1.8" opacity="0.36"/>
<rect x="115.8" y="618.3" width="7.4" height="59.6" fill="#555" opacity="0.08"/>
<line x1="123.2" y1="618.3" x2="123.2" y2="673.5" stroke="#444" fill="none" stroke-width="0.9" opacity="0.25"/>
<rect x="115.8" y="673.5" width="328.5" height="5" fill="#555" opacity="0.08"/>
<line x1="123.2" y1="673.5" x2="444.3" y2="673.5" stroke="#444" fill="none" stroke-width="0.9" opacity="0.25"/>
<line x1="115.8" y1="618.9" x2="227" y2="618.9" stroke="#444" fill="none" stroke-width="1.2" opacity="0.3"/>
<rect x="228.2" y="485" width="216.1" height="4.4" fill="#555" opacity="0.05"/></g>
<line x1="107.5" y1="619.5" x2="115.8" y2="618.3" stroke="#8a8a8a" stroke-width="0.9"/>
<line x1="107.5" y1="683.2" x2="115.8" y2="677.9" stroke="#8a8a8a" stroke-width="0.9"/>
<line x1="225" y1="480.4" x2="228.2" y2="485" stroke="#999" stroke-width="0.8"/>
</g>
<text x="186.5" y="462.4" text-anchor="end" style="font-family:'Liberation Sans',Arial,sans-serif;font-size:18.4px" fill="#111" stroke="#111" stroke-width="0.5">0.0 sec</text>
<g transform="translate(367.3 0)">
<polygon points="107.5,619.5 225,617.6 225,480.4 444.3,483.3 444.3,678.8 107.5,683.2" fill="#fff" stroke="#a4a4a4" stroke-width="1"/>
<polygon points="115.8,618.3 226.6,618.3 228.2,616.6 228.2,485 444.3,485 444.3,678.5 115.8,677.9" fill="url(#g1a)"/>
<rect x="228.2" y="544.6" width="216.1" height="13.2" fill="url(#g1b)"/>
<rect x="228.2" y="485" width="216.1" height="59.6" fill="url(#g1oe)"/>
<rect x="228.2" y="485" width="216.1" height="59.6" fill="url(#g1oc)" mask="url(#mOilR1)"/>
<rect x="269.3" y="545" width="135.2" height="114.5" fill="url(#g1w)"/>
<rect x="276.3" y="545" width="119.7" height="102" fill="url(#g1ie)"/>
<rect x="276.3" y="545" width="119.7" height="102" fill="url(#g1ic)" mask="url(#mWellR1)"/>
<g style="mix-blend-mode:multiply"><path d="M276,485.2 Q336,478 396.5,485.2" stroke="#a0a0a0" stroke-width="1.1" fill="none" stroke-dasharray="14 4 30 3 22 5 40 4"/>
<path d="M276,485.6 Q336,489.5 396.5,485.6" stroke="#444" fill="none" stroke-width="1.2" opacity="0.45"/>
<line x1="228.2" y1="489.4" x2="444.3" y2="489.4" stroke="#444" fill="none" stroke-width="0.9" opacity="0.18"/>
<line x1="225" y1="544.5" x2="444.3" y2="544.5" stroke="#444" fill="none" stroke-width="1.6" opacity="0.4"/>
<line x1="225" y1="547.3" x2="444.3" y2="547.3" stroke="#444" fill="none" stroke-width="1.2" opacity="0.15"/>
<line x1="225" y1="552" x2="444.3" y2="552" stroke="#444" fill="none" stroke-width="1.3" opacity="0.24"/>
<line x1="225" y1="556.7" x2="444.3" y2="556.7" stroke="#444" fill="none" stroke-width="1.6" opacity="0.34"/>
<path d="M271,557 L276.4,551.8 H400.6 L404,557 Z" fill="#444" opacity="0.22"/>
<line x1="276.4" y1="553.6" x2="400.6" y2="553.6" stroke="#444" fill="none" stroke-width="1.4" opacity="0.4"/>
<path d="M276.3,545 V644 Q276.3,646.8 279.3,646.8 H393 Q396,646.8 396,644 V545 Z" stroke="#444" fill="none" stroke-width="1.7" opacity="0.36"/>
<path d="M272.2,553 V650.5 Q272.2,653 275.5,653 H397.3 Q400.6,653 400.6,650.5 V553" stroke="#444" fill="none" stroke-width="1.4" opacity="0.28"/>
<path d="M268.6,558 V656 Q268.6,659 272,659 H401 Q404.3,659 404.3,656 V557" stroke="#444" fill="none" stroke-width="1.6" opacity="0.34"/>
<line x1="272.2" y1="655.8" x2="400.6" y2="655.8" stroke="#444" fill="none" stroke-width="1" opacity="0.3"/>
<line x1="276.3" y1="589.2" x2="396" y2="589.2" stroke="#444" fill="none" stroke-width="1.8" opacity="0.36"/>
<rect x="115.8" y="618.3" width="7.4" height="59.6" fill="#555" opacity="0.08"/>
<line x1="123.2" y1="618.3" x2="123.2" y2="673.5" stroke="#444" fill="none" stroke-width="0.9" opacity="0.25"/>
<rect x="115.8" y="673.5" width="328.5" height="5" fill="#555" opacity="0.08"/>
<line x1="123.2" y1="673.5" x2="444.3" y2="673.5" stroke="#444" fill="none" stroke-width="0.9" opacity="0.25"/>
<line x1="115.8" y1="618.9" x2="227" y2="618.9" stroke="#444" fill="none" stroke-width="1.2" opacity="0.3"/>
<rect x="228.2" y="485" width="216.1" height="4.4" fill="#555" opacity="0.05"/></g>
<line x1="107.5" y1="619.5" x2="115.8" y2="618.3" stroke="#8a8a8a" stroke-width="0.9"/>
<line x1="107.5" y1="683.2" x2="115.8" y2="677.9" stroke="#8a8a8a" stroke-width="0.9"/>
<line x1="225" y1="480.4" x2="228.2" y2="485" stroke="#999" stroke-width="0.8"/>
</g>
<text x="553.8" y="462.4" text-anchor="end" style="font-family:'Liberation Sans',Arial,sans-serif;font-size:18.4px" fill="#111" stroke="#111" stroke-width="0.5">5.0 sec</text>
<g transform="translate(736 0)">
<polygon points="107.5,619.5 225,617.6 225,480.4 444.3,483.3 444.3,678.8 107.5,683.2" fill="#fff" stroke="#a4a4a4" stroke-width="1"/>
<polygon points="115.8,618.3 226.6,618.3 228.2,616.6 228.2,485 444.3,485 444.3,678.5 115.8,677.9" fill="url(#g2a)"/>
<rect x="228.2" y="544.6" width="216.1" height="13.2" fill="url(#g2b)"/>
<rect x="228.2" y="485" width="216.1" height="59.6" fill="url(#g2oe)"/>
<rect x="228.2" y="485" width="216.1" height="59.6" fill="url(#g2oc)" mask="url(#mOilR2)"/>
<rect x="269.3" y="545" width="135.2" height="114.5" fill="url(#g2w)"/>
<rect x="276.3" y="545" width="119.7" height="102" fill="url(#g2ie)"/>
<rect x="276.3" y="545" width="119.7" height="102" fill="url(#g2ic)" mask="url(#mWellR2)"/>
<g style="mix-blend-mode:multiply"><path d="M276,485.2 Q336,478 396.5,485.2" stroke="#a0a0a0" stroke-width="1.1" fill="none" stroke-dasharray="14 4 30 3 22 5 40 4"/>
<path d="M276,485.6 Q336,489.5 396.5,485.6" stroke="#444" fill="none" stroke-width="1.2" opacity="0.45"/>
<line x1="228.2" y1="489.4" x2="444.3" y2="489.4" stroke="#444" fill="none" stroke-width="0.9" opacity="0.18"/>
<line x1="225" y1="544.5" x2="444.3" y2="544.5" stroke="#444" fill="none" stroke-width="1.6" opacity="0.4"/>
<line x1="225" y1="547.3" x2="444.3" y2="547.3" stroke="#444" fill="none" stroke-width="1.2" opacity="0.15"/>
<line x1="225" y1="552" x2="444.3" y2="552" stroke="#444" fill="none" stroke-width="1.3" opacity="0.24"/>
<line x1="225" y1="556.7" x2="444.3" y2="556.7" stroke="#444" fill="none" stroke-width="1.6" opacity="0.34"/>
<path d="M271,557 L276.4,551.8 H400.6 L404,557 Z" fill="#444" opacity="0.22"/>
<line x1="276.4" y1="553.6" x2="400.6" y2="553.6" stroke="#444" fill="none" stroke-width="1.4" opacity="0.4"/>
<path d="M276.3,545 V644 Q276.3,646.8 279.3,646.8 H393 Q396,646.8 396,644 V545 Z" stroke="#444" fill="none" stroke-width="1.7" opacity="0.36"/>
<path d="M272.2,553 V650.5 Q272.2,653 275.5,653 H397.3 Q400.6,653 400.6,650.5 V553" stroke="#444" fill="none" stroke-width="1.4" opacity="0.28"/>
<path d="M268.6,558 V656 Q268.6,659 272,659 H401 Q404.3,659 404.3,656 V557" stroke="#444" fill="none" stroke-width="1.6" opacity="0.34"/>
<line x1="272.2" y1="655.8" x2="400.6" y2="655.8" stroke="#444" fill="none" stroke-width="1" opacity="0.3"/>
<line x1="276.3" y1="589.2" x2="396" y2="589.2" stroke="#444" fill="none" stroke-width="1.8" opacity="0.36"/>
<rect x="115.8" y="618.3" width="7.4" height="59.6" fill="#555" opacity="0.08"/>
<line x1="123.2" y1="618.3" x2="123.2" y2="673.5" stroke="#444" fill="none" stroke-width="0.9" opacity="0.25"/>
<rect x="115.8" y="673.5" width="328.5" height="5" fill="#555" opacity="0.08"/>
<line x1="123.2" y1="673.5" x2="444.3" y2="673.5" stroke="#444" fill="none" stroke-width="0.9" opacity="0.25"/>
<line x1="115.8" y1="618.9" x2="227" y2="618.9" stroke="#444" fill="none" stroke-width="1.2" opacity="0.3"/>
<rect x="228.2" y="485" width="216.1" height="4.4" fill="#555" opacity="0.05"/></g>
<line x1="107.5" y1="619.5" x2="115.8" y2="618.3" stroke="#8a8a8a" stroke-width="0.9"/>
<line x1="107.5" y1="683.2" x2="115.8" y2="677.9" stroke="#8a8a8a" stroke-width="0.9"/>
<line x1="225" y1="480.4" x2="228.2" y2="485" stroke="#999" stroke-width="0.8"/>
</g>
<text x="922.5" y="462.4" text-anchor="end" style="font-family:'Liberation Sans',Arial,sans-serif;font-size:18.4px" fill="#111" stroke="#111" stroke-width="0.5">10.0 sec</text>
<g transform="translate(1104.2 0)">
<polygon points="107.5,619.5 225,617.6 225,480.4 444.3,483.3 444.3,678.8 107.5,683.2" fill="#fff" stroke="#a4a4a4" stroke-width="1"/>
<polygon points="115.8,618.3 226.6,618.3 228.2,616.6 228.2,485 444.3,485 444.3,678.5 115.8,677.9" fill="url(#g3a)"/>
<rect x="228.2" y="544.6" width="216.1" height="13.2" fill="url(#g3b)"/>
<rect x="228.2" y="485" width="216.1" height="59.6" fill="url(#g3oe)"/>
<rect x="228.2" y="485" width="216.1" height="59.6" fill="url(#g3oc)" mask="url(#mOil)"/>
<rect x="269.3" y="545" width="135.2" height="114.5" fill="url(#g3w)"/>
<rect x="276.3" y="545" width="119.7" height="102" fill="url(#g3ie)"/>
<rect x="276.3" y="545" width="119.7" height="102" fill="url(#g3ic)" mask="url(#mWell)"/>
<g style="mix-blend-mode:multiply"><path d="M276,485.2 Q336,478 396.5,485.2" stroke="#a0a0a0" stroke-width="1.1" fill="none" stroke-dasharray="14 4 30 3 22 5 40 4"/>
<path d="M276,485.6 Q336,489.5 396.5,485.6" stroke="#444" fill="none" stroke-width="1.2" opacity="0.45"/>
<line x1="228.2" y1="489.4" x2="444.3" y2="489.4" stroke="#444" fill="none" stroke-width="0.9" opacity="0.18"/>
<line x1="225" y1="544.5" x2="444.3" y2="544.5" stroke="#444" fill="none" stroke-width="1.6" opacity="0.4"/>
<line x1="225" y1="547.3" x2="444.3" y2="547.3" stroke="#444" fill="none" stroke-width="1.2" opacity="0.15"/>
<line x1="225" y1="552" x2="444.3" y2="552" stroke="#444" fill="none" stroke-width="1.3" opacity="0.24"/>
<line x1="225" y1="556.7" x2="444.3" y2="556.7" stroke="#444" fill="none" stroke-width="1.6" opacity="0.34"/>
<path d="M271,557 L276.4,551.8 H400.6 L404,557 Z" fill="#444" opacity="0.22"/>
<line x1="276.4" y1="553.6" x2="400.6" y2="553.6" stroke="#444" fill="none" stroke-width="1.4" opacity="0.4"/>
<path d="M276.3,545 V644 Q276.3,646.8 279.3,646.8 H393 Q396,646.8 396,644 V545 Z" stroke="#444" fill="none" stroke-width="1.7" opacity="0.36"/>
<path d="M272.2,553 V650.5 Q272.2,653 275.5,653 H397.3 Q400.6,653 400.6,650.5 V553" stroke="#444" fill="none" stroke-width="1.4" opacity="0.28"/>
<path d="M268.6,558 V656 Q268.6,659 272,659 H401 Q404.3,659 404.3,656 V557" stroke="#444" fill="none" stroke-width="1.6" opacity="0.34"/>
<line x1="272.2" y1="655.8" x2="400.6" y2="655.8" stroke="#444" fill="none" stroke-width="1" opacity="0.3"/>
<line x1="276.3" y1="589.2" x2="396" y2="589.2" stroke="#444" fill="none" stroke-width="1.8" opacity="0.36"/>
<rect x="115.8" y="618.3" width="7.4" height="59.6" fill="#555" opacity="0.08"/>
<line x1="123.2" y1="618.3" x2="123.2" y2="673.5" stroke="#444" fill="none" stroke-width="0.9" opacity="0.25"/>
<rect x="115.8" y="673.5" width="328.5" height="5" fill="#555" opacity="0.08"/>
<line x1="123.2" y1="673.5" x2="444.3" y2="673.5" stroke="#444" fill="none" stroke-width="0.9" opacity="0.25"/>
<line x1="115.8" y1="618.9" x2="227" y2="618.9" stroke="#444" fill="none" stroke-width="1.2" opacity="0.3"/>
<rect x="228.2" y="485" width="216.1" height="4.4" fill="#555" opacity="0.05"/></g>
<line x1="107.5" y1="619.5" x2="115.8" y2="618.3" stroke="#8a8a8a" stroke-width="0.9"/>
<line x1="107.5" y1="683.2" x2="115.8" y2="677.9" stroke="#8a8a8a" stroke-width="0.9"/>
<line x1="225" y1="480.4" x2="228.2" y2="485" stroke="#999" stroke-width="0.8"/>
</g>
<text x="1290.7" y="462.4" text-anchor="end" style="font-family:'Liberation Sans',Arial,sans-serif;font-size:18.4px" fill="#111" stroke="#111" stroke-width="0.5">25.0 sec</text>
<g transform="translate(0 317.1)">
<polygon points="107.5,619.5 225,617.6 225,480.4 444.3,483.3 444.3,678.8 107.5,683.2" fill="#fff" stroke="#a4a4a4" stroke-width="1"/>
<polygon points="115.8,618.3 226.6,618.3 228.2,616.6 228.2,485 444.3,485 444.3,678.5 115.8,677.9" fill="url(#g4a)"/>
<rect x="228.2" y="544.6" width="216.1" height="13.2" fill="url(#g4b)"/>
<rect x="228.2" y="485" width="216.1" height="59.6" fill="url(#g4oe)"/>
<rect x="228.2" y="485" width="216.1" height="59.6" fill="url(#g4oc)" mask="url(#mOil)"/>
<rect x="269.3" y="545" width="135.2" height="114.5" fill="url(#g4w)"/>
<rect x="276.3" y="545" width="119.7" height="102" fill="url(#g4ie)"/>
<rect x="276.3" y="545" width="119.7" height="102" fill="url(#g4ic)" mask="url(#mWellR4)"/>
<g style="mix-blend-mode:multiply"><path d="M276,485.2 Q336,478 396.5,485.2" stroke="#a0a0a0" stroke-width="1.1" fill="none" stroke-dasharray="14 4 30 3 22 5 40 4"/>
<path d="M276,485.6 Q336,489.5 396.5,485.6" stroke="#444" fill="none" stroke-width="1.2" opacity="0.45"/>
<line x1="228.2" y1="489.4" x2="444.3" y2="489.4" stroke="#444" fill="none" stroke-width="0.9" opacity="0.18"/>
<line x1="225" y1="544.5" x2="444.3" y2="544.5" stroke="#444" fill="none" stroke-width="1.6" opacity="0.4"/>
<line x1="225" y1="547.3" x2="444.3" y2="547.3" stroke="#444" fill="none" stroke-width="1.2" opacity="0.15"/>
<line x1="225" y1="552" x2="444.3" y2="552" stroke="#444" fill="none" stroke-width="1.3" opacity="0.24"/>
<line x1="225" y1="556.7" x2="444.3" y2="556.7" stroke="#444" fill="none" stroke-width="1.6" opacity="0.34"/>
<path d="M271,557 L276.4,551.8 H400.6 L404,557 Z" fill="#444" opacity="0.22"/>
<line x1="276.4" y1="553.6" x2="400.6" y2="553.6" stroke="#444" fill="none" stroke-width="1.4" opacity="0.4"/>
<path d="M276.3,545 V644 Q276.3,646.8 279.3,646.8 H393 Q396,646.8 396,644 V545 Z" stroke="#444" fill="none" stroke-width="1.7" opacity="0.36"/>
<path d="M272.2,553 V650.5 Q272.2,653 275.5,653 H397.3 Q400.6,653 400.6,650.5 V553" stroke="#444" fill="none" stroke-width="1.4" opacity="0.28"/>
<path d="M268.6,558 V656 Q268.6,659 272,659 H401 Q404.3,659 404.3,656 V557" stroke="#444" fill="none" stroke-width="1.6" opacity="0.34"/>
<line x1="272.2" y1="655.8" x2="400.6" y2="655.8" stroke="#444" fill="none" stroke-width="1" opacity="0.3"/>
<line x1="276.3" y1="589.2" x2="396" y2="589.2" stroke="#444" fill="none" stroke-width="1.8" opacity="0.36"/>
<rect x="115.8" y="618.3" width="7.4" height="59.6" fill="#555" opacity="0.08"/>
<line x1="123.2" y1="618.3" x2="123.2" y2="673.5" stroke="#444" fill="none" stroke-width="0.9" opacity="0.25"/>
<rect x="115.8" y="673.5" width="328.5" height="5" fill="#555" opacity="0.08"/>
<line x1="123.2" y1="673.5" x2="444.3" y2="673.5" stroke="#444" fill="none" stroke-width="0.9" opacity="0.25"/>
<line x1="115.8" y1="618.9" x2="227" y2="618.9" stroke="#444" fill="none" stroke-width="1.2" opacity="0.3"/>
<rect x="228.2" y="485" width="216.1" height="4.4" fill="#555" opacity="0.05"/></g>
<line x1="107.5" y1="619.5" x2="115.8" y2="618.3" stroke="#8a8a8a" stroke-width="0.9"/>
<line x1="107.5" y1="683.2" x2="115.8" y2="677.9" stroke="#8a8a8a" stroke-width="0.9"/>
<line x1="225" y1="480.4" x2="228.2" y2="485" stroke="#999" stroke-width="0.8"/>
</g>
<text x="186.5" y="779.5" text-anchor="end" style="font-family:'Liberation Sans',Arial,sans-serif;font-size:18.4px" fill="#111" stroke="#111" stroke-width="0.5">30.0 sec</text>
<g transform="translate(367.3 317.1)">
<polygon points="107.5,619.5 225,617.6 225,480.4 444.3,483.3 444.3,678.8 107.5,683.2" fill="#fff" stroke="#a4a4a4" stroke-width="1"/>
<polygon points="115.8,618.3 226.6,618.3 228.2,616.6 228.2,485 444.3,485 444.3,678.5 115.8,677.9" fill="url(#g5a)"/>
<rect x="228.2" y="544.6" width="216.1" height="13.2" fill="url(#g5b)"/>
<rect x="228.2" y="485" width="216.1" height="59.6" fill="url(#g5oe)"/>
<rect x="228.2" y="485" width="216.1" height="59.6" fill="url(#g5oc)" mask="url(#mOilR5)"/>
<rect x="269.3" y="545" width="135.2" height="114.5" fill="url(#g5w)"/>
<rect x="276.3" y="545" width="119.7" height="102" fill="url(#g5ie)"/>
<rect x="276.3" y="545" width="119.7" height="102" fill="url(#g5ic)" mask="url(#mWellR5)"/>
<g style="mix-blend-mode:multiply"><path d="M276,485.2 Q336,478 396.5,485.2" stroke="#a0a0a0" stroke-width="1.1" fill="none" stroke-dasharray="14 4 30 3 22 5 40 4"/>
<path d="M276,485.6 Q336,489.5 396.5,485.6" stroke="#444" fill="none" stroke-width="1.2" opacity="0.45"/>
<line x1="228.2" y1="489.4" x2="444.3" y2="489.4" stroke="#444" fill="none" stroke-width="0.9" opacity="0.18"/>
<line x1="225" y1="544.5" x2="444.3" y2="544.5" stroke="#444" fill="none" stroke-width="1.6" opacity="0.4"/>
<line x1="225" y1="547.3" x2="444.3" y2="547.3" stroke="#444" fill="none" stroke-width="1.2" opacity="0.15"/>
<line x1="225" y1="552" x2="444.3" y2="552" stroke="#444" fill="none" stroke-width="1.3" opacity="0.24"/>
<line x1="225" y1="556.7" x2="444.3" y2="556.7" stroke="#444" fill="none" stroke-width="1.6" opacity="0.34"/>
<path d="M271,557 L276.4,551.8 H400.6 L404,557 Z" fill="#444" opacity="0.22"/>
<line x1="276.4" y1="553.6" x2="400.6" y2="553.6" stroke="#444" fill="none" stroke-width="1.4" opacity="0.4"/>
<path d="M276.3,545 V644 Q276.3,646.8 279.3,646.8 H393 Q396,646.8 396,644 V545 Z" stroke="#444" fill="none" stroke-width="1.7" opacity="0.36"/>
<path d="M272.2,553 V650.5 Q272.2,653 275.5,653 H397.3 Q400.6,653 400.6,650.5 V553" stroke="#444" fill="none" stroke-width="1.4" opacity="0.28"/>
<path d="M268.6,558 V656 Q268.6,659 272,659 H401 Q404.3,659 404.3,656 V557" stroke="#444" fill="none" stroke-width="1.6" opacity="0.34"/>
<line x1="272.2" y1="655.8" x2="400.6" y2="655.8" stroke="#444" fill="none" stroke-width="1" opacity="0.3"/>
<line x1="276.3" y1="589.2" x2="396" y2="589.2" stroke="#444" fill="none" stroke-width="1.8" opacity="0.36"/>
<rect x="115.8" y="618.3" width="7.4" height="59.6" fill="#555" opacity="0.08"/>
<line x1="123.2" y1="618.3" x2="123.2" y2="673.5" stroke="#444" fill="none" stroke-width="0.9" opacity="0.25"/>
<rect x="115.8" y="673.5" width="328.5" height="5" fill="#555" opacity="0.08"/>
<line x1="123.2" y1="673.5" x2="444.3" y2="673.5" stroke="#444" fill="none" stroke-width="0.9" opacity="0.25"/>
<line x1="115.8" y1="618.9" x2="227" y2="618.9" stroke="#444" fill="none" stroke-width="1.2" opacity="0.3"/>
<rect x="228.2" y="485" width="216.1" height="4.4" fill="#555" opacity="0.05"/></g>
<line x1="107.5" y1="619.5" x2="115.8" y2="618.3" stroke="#8a8a8a" stroke-width="0.9"/>
<line x1="107.5" y1="683.2" x2="115.8" y2="677.9" stroke="#8a8a8a" stroke-width="0.9"/>
<line x1="225" y1="480.4" x2="228.2" y2="485" stroke="#999" stroke-width="0.8"/>
</g>
<text x="553.8" y="779.5" text-anchor="end" style="font-family:'Liberation Sans',Arial,sans-serif;font-size:18.4px" fill="#111" stroke="#111" stroke-width="0.5">35.0 sec</text>
<g transform="translate(736 317.1)">
<polygon points="107.5,619.5 225,617.6 225,480.4 444.3,483.3 444.3,678.8 107.5,683.2" fill="#fff" stroke="#a4a4a4" stroke-width="1"/>
<polygon points="115.8,618.3 226.6,618.3 228.2,616.6 228.2,485 444.3,485 444.3,678.5 115.8,677.9" fill="url(#g6a)"/>
<rect x="228.2" y="544.6" width="216.1" height="13.2" fill="url(#g6b)"/>
<rect x="228.2" y="485" width="216.1" height="59.6" fill="url(#g6oe)"/>
<rect x="228.2" y="485" width="216.1" height="59.6" fill="url(#g6oc)" mask="url(#mOilR6)"/>
<rect x="269.3" y="545" width="135.2" height="114.5" fill="url(#g6w)"/>
<rect x="276.3" y="545" width="119.7" height="102" fill="url(#g6ie)"/>
<rect x="276.3" y="545" width="119.7" height="102" fill="url(#g6ic)" mask="url(#mWellR6)"/>
<g style="mix-blend-mode:multiply"><path d="M276,485.2 Q336,478 396.5,485.2" stroke="#a0a0a0" stroke-width="1.1" fill="none" stroke-dasharray="14 4 30 3 22 5 40 4"/>
<path d="M276,485.6 Q336,489.5 396.5,485.6" stroke="#444" fill="none" stroke-width="1.2" opacity="0.45"/>
<line x1="228.2" y1="489.4" x2="444.3" y2="489.4" stroke="#444" fill="none" stroke-width="0.9" opacity="0.18"/>
<line x1="225" y1="544.5" x2="444.3" y2="544.5" stroke="#444" fill="none" stroke-width="1.6" opacity="0.4"/>
<line x1="225" y1="547.3" x2="444.3" y2="547.3" stroke="#444" fill="none" stroke-width="1.2" opacity="0.15"/>
<line x1="225" y1="552" x2="444.3" y2="552" stroke="#444" fill="none" stroke-width="1.3" opacity="0.24"/>
<line x1="225" y1="556.7" x2="444.3" y2="556.7" stroke="#444" fill="none" stroke-width="1.6" opacity="0.34"/>
<path d="M271,557 L276.4,551.8 H400.6 L404,557 Z" fill="#444" opacity="0.22"/>
<line x1="276.4" y1="553.6" x2="400.6" y2="553.6" stroke="#444" fill="none" stroke-width="1.4" opacity="0.4"/>
<path d="M276.3,545 V644 Q276.3,646.8 279.3,646.8 H393 Q396,646.8 396,644 V545 Z" stroke="#444" fill="none" stroke-width="1.7" opacity="0.36"/>
<path d="M272.2,553 V650.5 Q272.2,653 275.5,653 H397.3 Q400.6,653 400.6,650.5 V553" stroke="#444" fill="none" stroke-width="1.4" opacity="0.28"/>
<path d="M268.6,558 V656 Q268.6,659 272,659 H401 Q404.3,659 404.3,656 V557" stroke="#444" fill="none" stroke-width="1.6" opacity="0.34"/>
<line x1="272.2" y1="655.8" x2="400.6" y2="655.8" stroke="#444" fill="none" stroke-width="1" opacity="0.3"/>
<line x1="276.3" y1="589.2" x2="396" y2="589.2" stroke="#444" fill="none" stroke-width="1.8" opacity="0.36"/>
<rect x="115.8" y="618.3" width="7.4" height="59.6" fill="#555" opacity="0.08"/>
<line x1="123.2" y1="618.3" x2="123.2" y2="673.5" stroke="#444" fill="none" stroke-width="0.9" opacity="0.25"/>
<rect x="115.8" y="673.5" width="328.5" height="5" fill="#555" opacity="0.08"/>
<line x1="123.2" y1="673.5" x2="444.3" y2="673.5" stroke="#444" fill="none" stroke-width="0.9" opacity="0.25"/>
<line x1="115.8" y1="618.9" x2="227" y2="618.9" stroke="#444" fill="none" stroke-width="1.2" opacity="0.3"/>
<rect x="228.2" y="485" width="216.1" height="4.4" fill="#555" opacity="0.05"/></g>
<line x1="107.5" y1="619.5" x2="115.8" y2="618.3" stroke="#8a8a8a" stroke-width="0.9"/>
<line x1="107.5" y1="683.2" x2="115.8" y2="677.9" stroke="#8a8a8a" stroke-width="0.9"/>
<line x1="225" y1="480.4" x2="228.2" y2="485" stroke="#999" stroke-width="0.8"/>
</g>
<text x="922.5" y="779.5" text-anchor="end" style="font-family:'Liberation Sans',Arial,sans-serif;font-size:18.4px" fill="#111" stroke="#111" stroke-width="0.5">40.0 sec</text>
<g transform="translate(1104.2 317.1)">
<polygon points="107.5,619.5 225,617.6 225,480.4 444.3,483.3 444.3,678.8 107.5,683.2" fill="#fff" stroke="#a4a4a4" stroke-width="1"/>
<polygon points="115.8,618.3 226.6,618.3 228.2,616.6 228.2,485 444.3,485 444.3,678.5 115.8,677.9" fill="url(#g7a)"/>
<rect x="228.2" y="544.6" width="216.1" height="13.2" fill="url(#g7b)"/>
<rect x="228.2" y="485" width="216.1" height="59.6" fill="url(#g7oe)"/>
<rect x="228.2" y="485" width="216.1" height="59.6" fill="url(#g7oc)" mask="url(#mOilR7)"/>
<rect x="269.3" y="545" width="135.2" height="114.5" fill="url(#g7w)"/>
<rect x="276.3" y="545" width="119.7" height="102" fill="url(#g7ie)"/>
<rect x="276.3" y="545" width="119.7" height="102" fill="url(#g7ic)" mask="url(#mWellR7)"/>
<g style="mix-blend-mode:multiply"><path d="M276,485.2 Q336,478 396.5,485.2" stroke="#a0a0a0" stroke-width="1.1" fill="none" stroke-dasharray="14 4 30 3 22 5 40 4"/>
<path d="M276,485.6 Q336,489.5 396.5,485.6" stroke="#444" fill="none" stroke-width="1.2" opacity="0.45"/>
<line x1="228.2" y1="489.4" x2="444.3" y2="489.4" stroke="#444" fill="none" stroke-width="0.9" opacity="0.18"/>
<line x1="225" y1="544.5" x2="444.3" y2="544.5" stroke="#444" fill="none" stroke-width="1.6" opacity="0.4"/>
<line x1="225" y1="547.3" x2="444.3" y2="547.3" stroke="#444" fill="none" stroke-width="1.2" opacity="0.15"/>
<line x1="225" y1="552" x2="444.3" y2="552" stroke="#444" fill="none" stroke-width="1.3" opacity="0.24"/>
<line x1="225" y1="556.7" x2="444.3" y2="556.7" stroke="#444" fill="none" stroke-width="1.6" opacity="0.34"/>
<path d="M271,557 L276.4,551.8 H400.6 L404,557 Z" fill="#444" opacity="0.22"/>
<line x1="276.4" y1="553.6" x2="400.6" y2="553.6" stroke="#444" fill="none" stroke-width="1.4" opacity="0.4"/>
<path d="M276.3,545 V644 Q276.3,646.8 279.3,646.8 H393 Q396,646.8 396,644 V545 Z" stroke="#444" fill="none" stroke-width="1.7" opacity="0.36"/>
<path d="M272.2,553 V650.5 Q272.2,653 275.5,653 H397.3 Q400.6,653 400.6,650.5 V553" stroke="#444" fill="none" stroke-width="1.4" opacity="0.28"/>
<path d="M268.6,558 V656 Q268.6,659 272,659 H401 Q404.3,659 404.3,656 V557" stroke="#444" fill="none" stroke-width="1.6" opacity="0.34"/>
<line x1="272.2" y1="655.8" x2="400.6" y2="655.8" stroke="#444" fill="none" stroke-width="1" opacity="0.3"/>
<line x1="276.3" y1="589.2" x2="396" y2="589.2" stroke="#444" fill="none" stroke-width="1.8" opacity="0.36"/>
<rect x="115.8" y="618.3" width="7.4" height="59.6" fill="#555" opacity="0.08"/>
<line x1="123.2" y1="618.3" x2="123.2" y2="673.5" stroke="#444" fill="none" stroke-width="0.9" opacity="0.25"/>
<rect x="115.8" y="673.5" width="328.5" height="5" fill="#555" opacity="0.08"/>
<line x1="123.2" y1="673.5" x2="444.3" y2="673.5" stroke="#444" fill="none" stroke-width="0.9" opacity="0.25"/>
<line x1="115.8" y1="618.9" x2="227" y2="618.9" stroke="#444" fill="none" stroke-width="1.2" opacity="0.3"/>
<rect x="228.2" y="485" width="216.1" height="4.4" fill="#555" opacity="0.05"/></g>
<line x1="107.5" y1="619.5" x2="115.8" y2="618.3" stroke="#8a8a8a" stroke-width="0.9"/>
<line x1="107.5" y1="683.2" x2="115.8" y2="677.9" stroke="#8a8a8a" stroke-width="0.9"/>
<line x1="225" y1="480.4" x2="228.2" y2="485" stroke="#999" stroke-width="0.8"/>
</g>
<text x="1290.7" y="779.5" text-anchor="end" style="font-family:'Liberation Sans',Arial,sans-serif;font-size:18.4px" fill="#111" stroke="#111" stroke-width="0.5">45.0 sec</text>
<rect x="1584.7" y="453.9" width="20.5" height="524" fill="url(#cbar)" stroke="#1a1a1a" stroke-width="1.2"/>
<rect x="1585.3" y="453.9" width="2" height="524" fill="#000" opacity="0.18"/>
<rect x="1602.6" y="453.9" width="2" height="524" fill="#000" opacity="0.18"/>
<line x1="1584.7" y1="977.9" x2="1587.7" y2="977.9" stroke="#000" stroke-width="1.2"/>
<line x1="1602.2" y1="977.9" x2="1605.2" y2="977.9" stroke="#000" stroke-width="1.2"/>
<text x="1615.7" y="983.9" style="font-family:'DejaVu Sans',Verdana,sans-serif;font-size:16.2px" fill="#1a1a1a">60</text>
<line x1="1584.7" y1="912.4" x2="1587.7" y2="912.4" stroke="#000" stroke-width="1.2"/>
<line x1="1602.2" y1="912.4" x2="1605.2" y2="912.4" stroke="#000" stroke-width="1.2"/>
<text x="1615.7" y="918.4" style="font-family:'DejaVu Sans',Verdana,sans-serif;font-size:16.2px" fill="#1a1a1a">65</text>
<line x1="1584.7" y1="846.9" x2="1587.7" y2="846.9" stroke="#000" stroke-width="1.2"/>
<line x1="1602.2" y1="846.9" x2="1605.2" y2="846.9" stroke="#000" stroke-width="1.2"/>
<text x="1615.7" y="852.9" style="font-family:'DejaVu Sans',Verdana,sans-serif;font-size:16.2px" fill="#1a1a1a">70</text>
<line x1="1584.7" y1="781.4" x2="1587.7" y2="781.4" stroke="#000" stroke-width="1.2"/>
<line x1="1602.2" y1="781.4" x2="1605.2" y2="781.4" stroke="#000" stroke-width="1.2"/>
<text x="1615.7" y="787.4" style="font-family:'DejaVu Sans',Verdana,sans-serif;font-size:16.2px" fill="#1a1a1a">75</text>
<line x1="1584.7" y1="715.9" x2="1587.7" y2="715.9" stroke="#000" stroke-width="1.2"/>
<line x1="1602.2" y1="715.9" x2="1605.2" y2="715.9" stroke="#000" stroke-width="1.2"/>
<text x="1615.7" y="721.9" style="font-family:'DejaVu Sans',Verdana,sans-serif;font-size:16.2px" fill="#1a1a1a">80</text>
<line x1="1584.7" y1="650.4" x2="1587.7" y2="650.4" stroke="#000" stroke-width="1.2"/>
<line x1="1602.2" y1="650.4" x2="1605.2" y2="650.4" stroke="#000" stroke-width="1.2"/>
<text x="1615.7" y="656.4" style="font-family:'DejaVu Sans',Verdana,sans-serif;font-size:16.2px" fill="#1a1a1a">85</text>
<line x1="1584.7" y1="584.9" x2="1587.7" y2="584.9" stroke="#000" stroke-width="1.2"/>
<line x1="1602.2" y1="584.9" x2="1605.2" y2="584.9" stroke="#000" stroke-width="1.2"/>
<text x="1615.7" y="590.9" style="font-family:'DejaVu Sans',Verdana,sans-serif;font-size:16.2px" fill="#1a1a1a">90</text>
<line x1="1584.7" y1="519.4" x2="1587.7" y2="519.4" stroke="#000" stroke-width="1.2"/>
<line x1="1602.2" y1="519.4" x2="1605.2" y2="519.4" stroke="#000" stroke-width="1.2"/>
<text x="1615.7" y="525.4" style="font-family:'DejaVu Sans',Verdana,sans-serif;font-size:16.2px" fill="#1a1a1a">95</text>
<line x1="1584.7" y1="453.9" x2="1587.7" y2="453.9" stroke="#000" stroke-width="1.2"/>
<line x1="1602.2" y1="453.9" x2="1605.2" y2="453.9" stroke="#000" stroke-width="1.2"/>
<text x="1615.7" y="459.9" style="font-family:'DejaVu Sans',Verdana,sans-serif;font-size:16.2px" fill="#1a1a1a">100</text>
<text transform="translate(4.5 0) scale(0.97 1)" x="0" y="466" style="font-family:'Liberation Sans',Arial,sans-serif;font-size:58px" fill="#000" stroke="#fff" stroke-width="1">c</text>
</svg>
</body></html>
